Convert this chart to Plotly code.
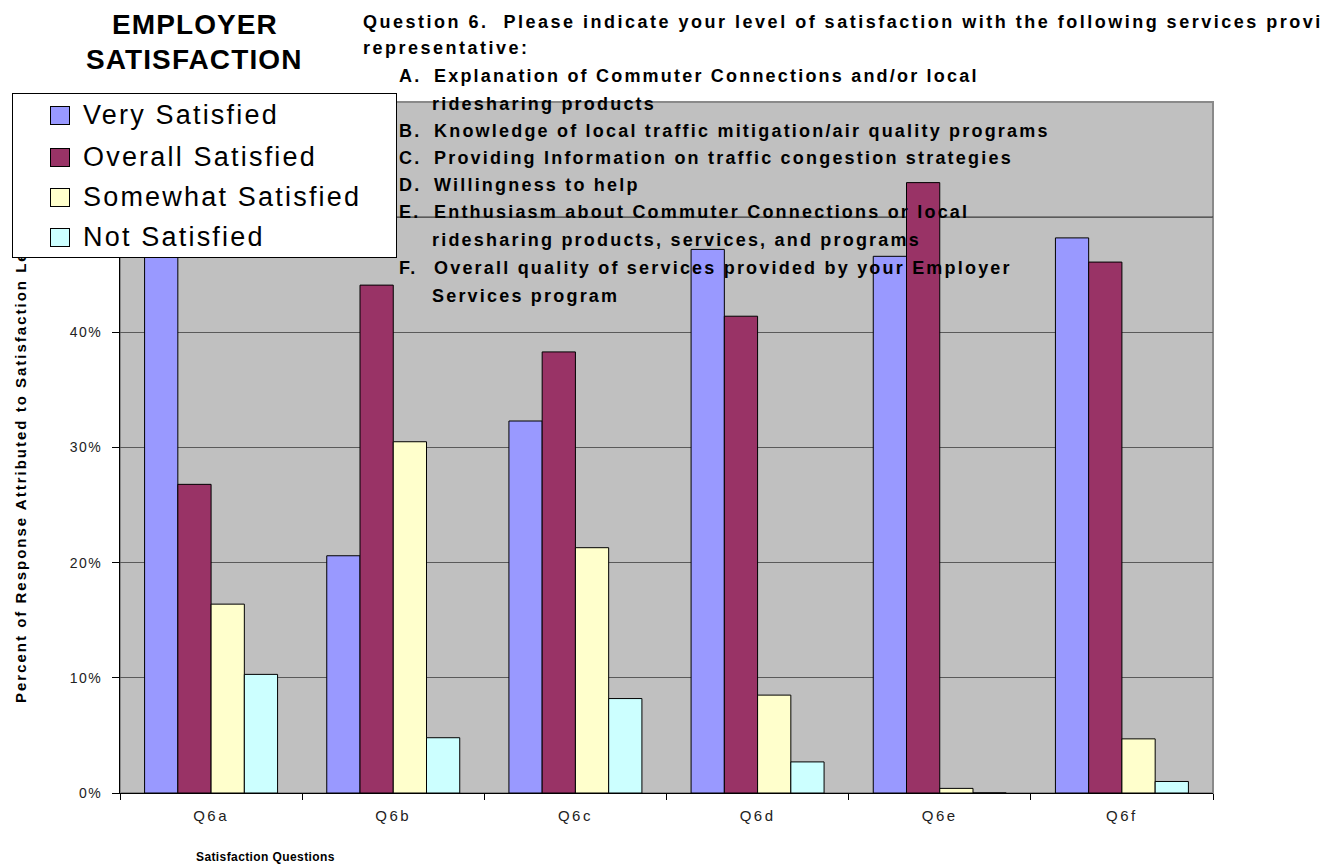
import plotly.graph_objects as go

# ---- data -------------------------------------------------------------
questions = ["Q6a", "Q6b", "Q6c", "Q6d", "Q6e", "Q6f"]
series_names = ["Very Satisfied", "Overall Satisfied", "Somewhat Satisfied", "Not Satisfied"]
very_satisfied = [46.6, 20.6, 32.3, 47.2, 46.6, 48.2]
overall_satisfied = [26.8, 44.1, 38.3, 41.4, 53.0, 46.1]
somewhat_satisfied = [16.4, 30.5, 21.3, 8.5, 0.4, 4.7]
not_satisfied = [10.3, 4.8, 8.2, 2.7, 0.0, 1.0]
y_tick_values = [0, 10, 20, 30, 40, 50, 60]
y_tick_labels = ["0%", "10%", "20%", "30%", "40%", "50%", "60%"]

chart_title = ["EMPLOYER", "SATISFACTION"]
question_header = [
    "Question 6.\u00a0 Please indicate your level of satisfaction with the following services provided by your",
    "representative:",
]
question_items = [
    ("A.", ["Explanation of Commuter Connections and/or local", "ridesharing products"]),
    ("B.", ["Knowledge of local traffic mitigation/air quality programs"]),
    ("C.", ["Providing Information on traffic congestion strategies"]),
    ("D.", ["Willingness to help"]),
    ("E.", ["Enthusiasm about Commuter Connections or local", "ridesharing products, services, and programs"]),
    ("F.", ["Overall quality of services provided by your Employer", "Services program"]),
]
x_title = "Satisfaction Questions"
y_title = "Percent of Response Attributed to Satisfaction Level"

series_values = [very_satisfied, overall_satisfied, somewhat_satisfied, not_satisfied]
series_colors = ["#9999FF", "#993366", "#FFFFCC", "#CCFFFF"]

# ---- page geometry ----------------------------------------------------
W, H = 1321, 865
ML, MR, MT, MB = 120, 108, 102, 72
FONT = "Liberation Sans, Arial, sans-serif"


def px(x):
    return (x - ML) / (W - ML - MR)


def py(y):
    return (H - MB - y) / (H - MT - MB)


def spaced(text, ls):
    return f'<span style="letter-spacing:{ls}px">{text}</span>'


fig = go.Figure()
for name, vals, color in zip(series_names, series_values, series_colors):
    fig.add_trace(go.Bar(
        x=questions, y=vals, name=name, showlegend=False,
        marker=dict(color=color, line=dict(color="black", width=1)),
        hoverinfo="x+y+name",
    ))

annotations = []

# vertical axis title (drawn first so the key box sits on top of it)
annotations.append(dict(
    text=spaced(f"<b>{y_title}</b>", 2.0), x=px(20), y=py(464),
    xref="paper", yref="paper", xanchor="center", yanchor="middle",
    textangle=-90, showarrow=False, font=dict(family=FONT, size=15, color="black"),
))

# key box
box_l, box_t, box_r, box_b = 12, 93, 397, 258
annotations.append(dict(
    text=" ", x=px(box_l), y=py(box_t), xref="paper", yref="paper",
    xanchor="left", yanchor="top", showarrow=False,
    width=box_r - box_l - 2, height=box_b - box_t - 2, borderpad=0,
    bgcolor="white", bordercolor="black", borderwidth=1,
))
key_rows = [115, 157, 197, 237]
for name, color, yc in zip(series_names, series_colors, key_rows):
    annotations.append(dict(
        text=" ", x=px(60), y=py(yc), xref="paper", yref="paper",
        xanchor="center", yanchor="middle", showarrow=False,
        width=18, height=17, borderpad=0,
        bgcolor=color, bordercolor="black", borderwidth=1,
        font=dict(size=4),
    ))
    annotations.append(dict(
        text=spaced(name, 2.2), x=px(82), y=py(yc), xref="paper", yref="paper",
        xanchor="left", yanchor="middle", showarrow=False, borderpad=0,
        font=dict(family=FONT, size=27, color="black"),
    ))

# chart heading
for line, (xc, yc) in zip(chart_title, [(195, 25), (194, 60)]):
    annotations.append(dict(
        text=spaced(f"<b>{line}</b>", 1.1), x=px(xc), y=py(yc),
        xref="paper", yref="paper", xanchor="center", yanchor="middle",
        showarrow=False, borderpad=0, font=dict(family=FONT, size=28, color="black"),
    ))

# question wording
qfont = dict(family=FONT, size=18, color="black")
for line, (xl, yc) in zip(question_header, [(362, 22), (362, 48)]):
    annotations.append(dict(
        text=spaced(f"<b>{line}</b>", 2.5), x=px(xl), y=py(yc),
        xref="paper", yref="paper", xanchor="left", yanchor="middle",
        showarrow=False, borderpad=0, font=qfont,
    ))

row_y = [76, 104, 131, 158, 185, 212, 240, 268, 296]
row = 0
for letter, lines in question_items:
    annotations.append(dict(
        text=spaced(f"<b>{letter}</b>", 2.2), x=px(398), y=py(row_y[row]),
        xref="paper", yref="paper", xanchor="left", yanchor="middle",
        showarrow=False, borderpad=0, font=qfont,
    ))
    for i, line in enumerate(lines):
        xl = 433 if i == 0 else 431
        annotations.append(dict(
            text=spaced(f"<b>{line}</b>", 2.2), x=px(xl), y=py(row_y[row]),
            xref="paper", yref="paper", xanchor="left", yanchor="middle",
            showarrow=False, borderpad=0, font=qfont,
        ))
        row += 1

# horizontal axis title
annotations.append(dict(
    text=spaced(f"<b>{x_title}</b>", 0.4), x=px(265), y=py(857),
    xref="paper", yref="paper", xanchor="center", yanchor="middle",
    showarrow=False, borderpad=0, font=dict(family=FONT, size=12, color="black"),
))

shapes = [
    # plot frame
    dict(type="rect", xref="paper", yref="paper", x0=0, x1=1, y0=0, y1=1,
         line=dict(color="#8a8a8a", width=2), layer="below"),
    # emphasised 50% rule
    dict(type="line", xref="paper", yref="y", x0=0, x1=1, y0=50, y1=50,
         line=dict(color="black", width=1), layer="below"),
]

fig.update_layout(
    width=W, height=H,
    margin=dict(l=ML, r=MR, t=MT, b=MB, pad=0),
    paper_bgcolor="white", plot_bgcolor="#C0C0C0",
    barmode="group", bargap=0.27, bargroupgap=0,
    font=dict(family=FONT, color="#222222"),
    showlegend=False,
    annotations=annotations, shapes=shapes,
    xaxis=dict(
        type="category", showline=True, linecolor="black", linewidth=1,
        ticks="outside", tickson="boundaries", ticklen=6, tickcolor="black",
        tickvals=questions, ticktext=[spaced(q, 2.5) for q in questions],
        tickfont=dict(family=FONT, size=15, color="#222222"),
        ticklabelstandoff=9, showgrid=False, zeroline=False,
    ),
    yaxis=dict(
        range=[0, 60], showline=True, linecolor="black", linewidth=1,
        ticks="outside", ticklen=7, tickcolor="black",
        tickvals=y_tick_values, ticktext=[spaced(t, 1.5) for t in y_tick_labels],
        tickfont=dict(family=FONT, size=14, color="#222222"),
        ticklabelstandoff=7,
        showgrid=True, gridcolor="#5a5a5a", gridwidth=1, zeroline=False,
    ),
)

fig.write_html("out.html")
